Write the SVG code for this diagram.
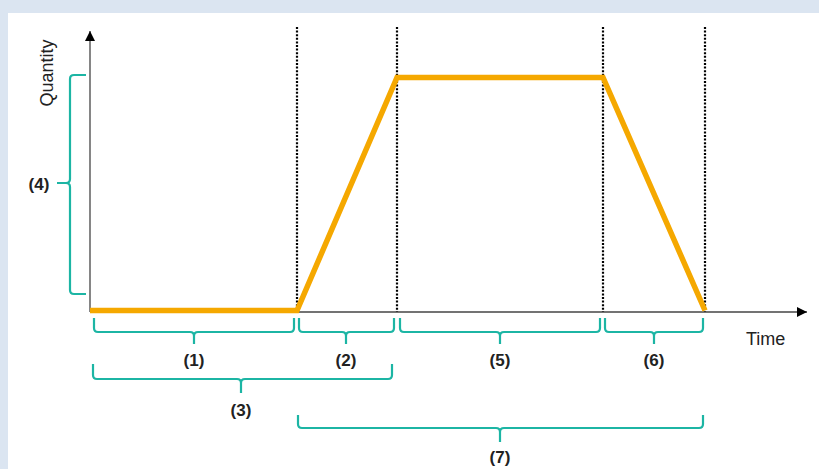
<svg xmlns="http://www.w3.org/2000/svg" width="819" height="469" viewBox="0 0 819 469">
<defs>
<style>
.axis{stroke:#444;stroke-width:1.3;fill:none}
.dot{stroke:#000;stroke-width:2.2;stroke-dasharray:2 1.6;fill:none}
.br{stroke:#1cb5a4;stroke-width:2.2;fill:none;stroke-linejoin:round}
.lbl{font-family:"Liberation Sans",Arial,sans-serif;font-weight:bold;font-size:17px;fill:#222;text-anchor:middle}
.ax{font-family:"Liberation Sans",Arial,sans-serif;font-size:18px;fill:#222}
</style>
<marker id="arr" viewBox="0 0 10 10" refX="10" refY="5" markerWidth="10" markerHeight="10" markerUnits="userSpaceOnUse" orient="auto">
<path d="M0,0 L10,5 L0,10 z" fill="#000"/>
</marker>
</defs>
<rect x="0" y="0" width="819" height="469" fill="#dbe5f1"/>
<rect x="8" y="13" width="811" height="456" fill="#ffffff"/>
<g id="axes">
<line class="axis" x1="90" y1="312" x2="90" y2="31" marker-end="url(#arr)"/>
<line class="axis" x1="90" y1="312" x2="807" y2="312" marker-end="url(#arr)"/>
<text class="ax" x="0" y="0" text-anchor="middle" transform="translate(53,73) rotate(-90)">Quantity</text>
<text class="ax" x="746" y="345">Time</text>
</g>
<g id="connectors">
<line class="dot" x1="297" y1="27" x2="297" y2="312"/>
<line class="dot" x1="397" y1="27" x2="397" y2="312"/>
<line class="dot" x1="603" y1="27" x2="603" y2="312"/>
<line class="dot" x1="705" y1="27" x2="705" y2="312"/>
<polyline points="90,310.5 297,310.5 397,77.5 603,77.5 705,310.5" fill="none" stroke="#f5a800" stroke-width="5.5" stroke-linejoin="miter"/>
</g>
<g id="b1"><path class="br" d="M94,318 V328 Q94,332 98,332 H190 Q194,332 194,336 V344 M194,336 Q194,332 198,332 H290 Q294,332 294,328 V318"/><text class="lbl" x="194" y="366">(1)</text></g>
<g id="b2"><path class="br" d="M299,318 V328 Q299,332 303,332 H342 Q346,332 346,336 V344 M346,336 Q346,332 350,332 H390 Q394,332 394,328 V318"/><text class="lbl" x="346" y="366">(2)</text></g>
<g id="b5"><path class="br" d="M400,318 V328 Q400,332 404,332 H496 Q500,332 500,336 V344 M500,336 Q500,332 504,332 H596 Q600,332 600,328 V318"/><text class="lbl" x="500" y="366">(5)</text></g>
<g id="b6"><path class="br" d="M605,318 V328 Q605,332 609,332 H650 Q654,332 654,336 V344 M654,336 Q654,332 658,332 H699 Q703,332 703,328 V318"/><text class="lbl" x="654" y="366">(6)</text></g>
<g id="b3"><path class="br" d="M93,364 V375 Q93,379 97,379 H237 Q241,379 241,383 V393 M241,383 Q241,379 245,379 H388 Q392,379 392,375 V364"/><text class="lbl" x="241" y="416">(3)</text></g>
<g id="b7"><path class="br" d="M298,415 V424 Q298,428 302,428 H496 Q500,428 500,432 V442 M500,432 Q500,428 504,428 H699 Q703,428 703,424 V415"/><text class="lbl" x="500" y="463">(7)</text></g>
<g id="b4"><path class="br" d="M86,75 H74 Q70,75 70,79 V179 Q70,183 66,183 H57 M66,183 Q70,183 70,187 V290 Q70,294 74,294 H86"/><text class="lbl" x="39" y="190">(4)</text></g>
</svg>
